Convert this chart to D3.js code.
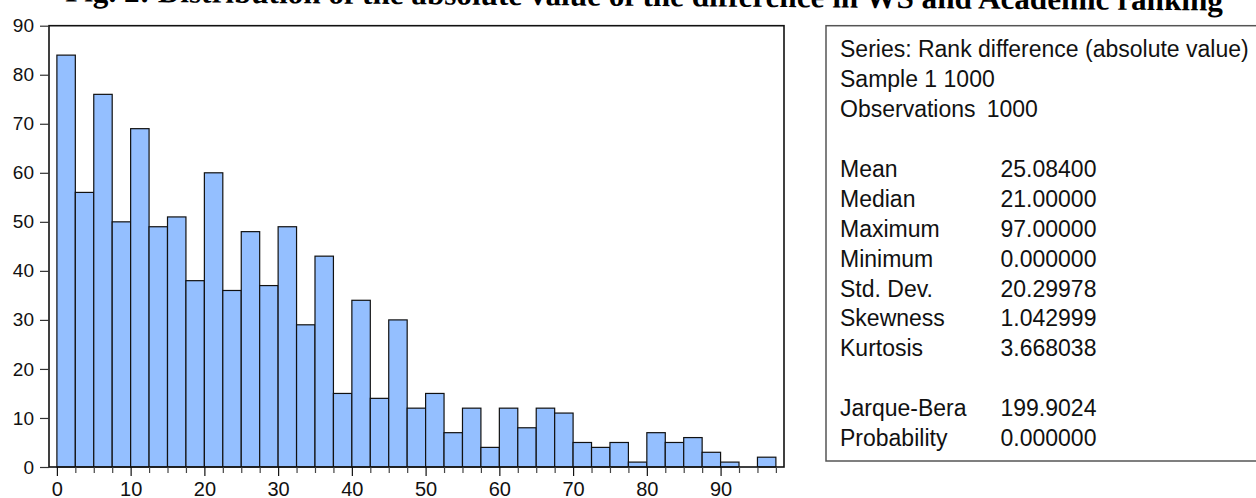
<!DOCTYPE html>
<html>
<head>
<meta charset="utf-8">
<script src="https://cdn.jsdelivr.net/npm/d3@7/dist/d3.min.js"></script>
<style>
  html, body { margin: 0; padding: 0; background: #fff; }
  svg { display: block; }
</style>
</head>
<body>
<svg id="chart" width="1256" height="498"></svg>
<script>
// Histogram of absolute rank differences, bin width 2.5
const binStarts = d3.range(0, 97.5 + 0.001, 2.5);
const counts = [84, 56, 76, 50, 69, 49, 51, 38, 60, 36, 48, 37, 49, 29, 43, 15, 34, 14, 30, 12,
                15, 7, 12, 4, 12, 8, 12, 11, 5, 4, 5, 1, 7, 5, 6, 3, 1, 0, 2];
const binWidth = 2.5;
const xTickLabels = [0, 10, 20, 30, 40, 50, 60, 70, 80, 90];
const yTickLabels = [0, 10, 20, 30, 40, 50, 60, 70, 80, 90];

const titleText = "Fig. 2: Distribution of the absolute value of the difference in WS and Academic ranking";

// Summary statistics panel
const headerLines = ["Series: Rank difference (absolute value)", "Sample 1 1000"];
const obsLabel = "Observations";
const obsValue = "1000";
const statNames = ["Mean", "Median", "Maximum", "Minimum", "Std. Dev.", "Skewness", "Kurtosis"];
const statValues = ["25.08400", "21.00000", "97.00000", "0.000000", "20.29978", "1.042999", "3.668038"];
const testNames = ["Jarque-Bera", "Probability"];
const testValues = ["199.9024", "0.000000"];

const svg = d3.select("#chart");
const sans = "'Liberation Sans', Arial, sans-serif";

const plot = { left: 49, right: 784, top: 25.7, bottom: 467 };

const x = d3.scaleLinear().domain([-1.07, 98.6]).range([plot.left, plot.right]);
const y = d3.scaleLinear().domain([0, 90]).range([plot.bottom, plot.top]);

// Title (bold serif, spanning the page, slightly tilted)
const title = svg.append("text")
  .attr("font-family", "'Liberation Serif', 'Times New Roman', serif")
  .attr("font-weight", "bold")
  .attr("font-size", 24)
  .attr("text-anchor", "middle")
  .attr("x", 644)
  .attr("y", 6)
  .attr("transform", "rotate(0.45 644 6)")
  .text(titleText);
const tl = title.node().getComputedTextLength();
title.attr("font-size", 24 * 1158 / tl);

// Bars
const bins = binStarts.map((b, i) => ({ x0: b, x1: b + binWidth, n: counts[i] }));
svg.append("g")
  .selectAll("rect")
  .data(bins.filter(d => d.n > 0))
  .join("rect")
  .attr("x", d => x(d.x0))
  .attr("y", d => y(d.n))
  .attr("width", d => x(d.x1) - x(d.x0))
  .attr("height", d => y(0) - y(d.n))
  .attr("fill", "#94bfff")
  .attr("stroke", "#111")
  .attr("stroke-width", 1.2);

// Plot frame
svg.append("rect")
  .attr("x", plot.left)
  .attr("y", plot.top)
  .attr("width", plot.right - plot.left)
  .attr("height", plot.bottom - plot.top)
  .attr("fill", "none")
  .attr("stroke", "#111")
  .attr("stroke-width", 1.6);

// Y axis ticks and labels
const yAxis = svg.append("g")
  .attr("transform", `translate(${plot.left},0)`)
  .call(d3.axisLeft(y).tickValues(yTickLabels).tickSize(9).tickPadding(6).tickFormat(d3.format("d")));
yAxis.select(".domain").remove();
yAxis.selectAll("line").attr("stroke", "#333").attr("stroke-width", 1.2);
yAxis.selectAll("text")
  .attr("font-family", sans)
  .attr("font-size", 19)
  .attr("fill", "#111");

// X axis: minor ticks at every bin edge, labelled major ticks every 10
const xAxisMinor = svg.append("g")
  .attr("transform", `translate(0,${plot.bottom})`)
  .call(d3.axisBottom(x).tickValues(binStarts.filter(v => v % 10 !== 0)).tickSize(6).tickFormat(""));
xAxisMinor.select(".domain").remove();
xAxisMinor.selectAll("line").attr("stroke", "#444").attr("stroke-width", 1.2);

const xAxis = svg.append("g")
  .attr("transform", `translate(0,${plot.bottom})`)
  .call(d3.axisBottom(x).tickValues(xTickLabels).tickSize(9).tickPadding(6).tickFormat(d3.format("d")));
xAxis.select(".domain").remove();
xAxis.selectAll("line").attr("stroke", "#111").attr("stroke-width", 1.2);
xAxis.selectAll("text")
  .attr("font-family", sans)
  .attr("font-size", 20)
  .attr("fill", "#111");

// Statistics panel
const box = { left: 826, top: 25.7, right: 1262, bottom: 461 };
svg.append("rect")
  .attr("x", box.left)
  .attr("y", box.top)
  .attr("width", box.right - box.left)
  .attr("height", box.bottom - box.top)
  .attr("fill", "#fff")
  .attr("stroke", "#555")
  .attr("stroke-width", 1.5);

const textX = 840;
const valueX = 1000.5;
const firstBase = 57.3;
const lineH = 29.9;
const panel = svg.append("g")
  .attr("font-family", sans)
  .attr("font-size", 23)
  .attr("fill", "#111");

const rowY = i => firstBase + i * lineH;
headerLines.forEach((t, i) => panel.append("text").attr("x", textX).attr("y", rowY(i)).text(t));
panel.append("text").attr("x", textX).attr("y", rowY(2)).text(obsLabel);
panel.append("text").attr("x", 986.7).attr("y", rowY(2)).text(obsValue);

statNames.forEach((t, i) => {
  panel.append("text").attr("x", textX).attr("y", rowY(4 + i)).text(t);
  panel.append("text").attr("x", valueX).attr("y", rowY(4 + i)).text(statValues[i]);
});
testNames.forEach((t, i) => {
  panel.append("text").attr("x", textX).attr("y", rowY(12 + i)).text(t);
  panel.append("text").attr("x", valueX).attr("y", rowY(12 + i)).text(testValues[i]);
});
</script>
</body>
</html>
